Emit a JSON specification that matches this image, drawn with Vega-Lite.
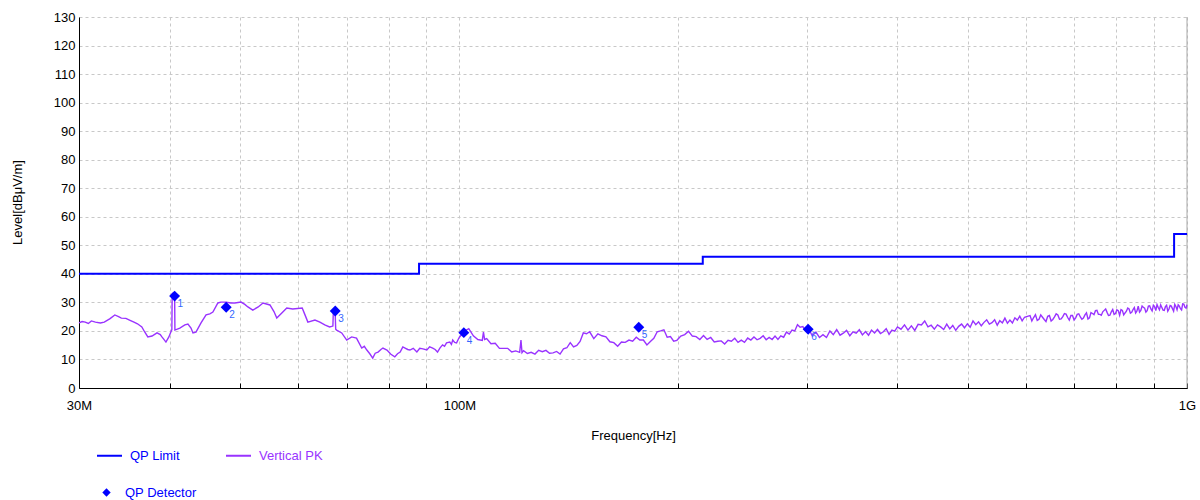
{
  "$schema": "https://vega.github.io/schema/vega-lite/v6.json",
  "width": 1108,
  "height": 371,
  "autosize": {"type": "none"},
  "padding": {"left": 79, "top": 17, "right": 13, "bottom": 112},
  "background": "white",
  "config": {
    "font": "Liberation Sans",
    "view": {"stroke": null},
    "axis": {
      "labelFont": "Liberation Sans",
      "titleFont": "Liberation Sans",
      "labelColor": "#000000",
      "titleColor": "#000000",
      "titleFontWeight": "normal",
      "domainColor": "#000000",
      "gridColor": "#c8c8c8",
      "gridDash": [3, 3]
    },
    "legend": {"labelFont": "Liberation Sans"}
  },
  "encoding": {
    "x": {
      "field": "f", "type": "quantitative",
      "scale": {"type": "log", "domain": [30, 1000], "nice": false},
      "axis": {
        "values": [30, 40, 50, 60, 70, 80, 90, 100, 200, 300, 400, 500, 600, 700, 800, 900, 1000],
        "tickCount": 40,
        "labelExpr": "datum.value == 30 ? '30M' : datum.value == 100 ? '100M' : datum.value == 1000 ? '1G' : ''",
        "labelFontSize": 13,
        "labelFlush": false,
        "labelOverlap": false,
        "tickColor": "#000000",
        "tickSize": -5,
        "labelPadding": 16,
        "title": "Frequency[Hz]",
        "titleFontSize": 13,
        "titleBaseline": "middle",
        "titleY": 47
      }
    },
    "y": {
      "field": "v", "type": "quantitative",
      "scale": {"domain": [0, 130], "nice": false, "zero": true},
      "axis": {
        "values": [0, 10, 20, 30, 40, 50, 60, 70, 80, 90, 100, 110, 120, 130],
        "tickCount": 30,
        "ticks": false,
        "labelOverlap": false,
        "labelPadding": 4,
        "labelFontSize": 13,
        "title": "Level[dBμV/m]",
        "titleFontSize": 13,
        "titleX": -62,
        "titleY": 185,
        "titleAngle": -90,
        "titleBaseline": "middle",
        "titleAlign": "center"
      }
    }
  },
  "layer": [
    {
      "data": {"values": [{"f": 1000, "lo": 0, "hi": 130}]},
      "mark": {"type": "rule", "color": "#a8a8a8", "strokeWidth": 1},
      "encoding": {
        "y": {"field": "lo", "type": "quantitative"},
        "y2": {"field": "hi"}
      }
    },
    {
      "data": {"values": [
        {"i": 1, "f": 30, "v": 40, "s": "QP Limit"},
        {"i": 2, "f": 88, "v": 40, "s": "QP Limit"},
        {"i": 3, "f": 88, "v": 43.5, "s": "QP Limit"},
        {"i": 4, "f": 216, "v": 43.5, "s": "QP Limit"},
        {"i": 5, "f": 216, "v": 46, "s": "QP Limit"},
        {"i": 6, "f": 960, "v": 46, "s": "QP Limit"},
        {"i": 7, "f": 960, "v": 54, "s": "QP Limit"},
        {"i": 8, "f": 1000, "v": 54, "s": "QP Limit"}
      ]},
      "mark": {"type": "line", "strokeWidth": 2, "interpolate": "linear"},
      "encoding": {
        "order": {"field": "i", "type": "quantitative"},
        "color": {
          "field": "s", "type": "nominal",
          "scale": {"domain": ["QP Limit", "Vertical PK"], "range": ["#0000ff", "#9933ff"]},
          "legend": {
            "title": null,
            "orient": "none",
            "direction": "horizontal",
            "legendX": 17,
            "legendY": 425,
            "symbolType": "stroke",
            "symbolSize": 625,
            "symbolStrokeWidth": 2,
            "labelFontSize": 13,
            "labelOffset": 7,
            "columnPadding": 42,
            "encode": {"labels": {"update": {"fill": {"signal": "datum.label === 'QP Limit' ? '#0000ff' : '#9933ff'"}}}}
          }
        }
      }
    },
    {
      "data": {"values": [
        {"f": 30.0, "v": 22.8}, {"f": 30.3, "v": 23.3}, {"f": 30.6, "v": 23.1}, {"f": 30.9, "v": 22.6},
        {"f": 31.2, "v": 23.5}, {"f": 31.6, "v": 23.1}, {"f": 32.1, "v": 22.8}, {"f": 32.5, "v": 23.1},
        {"f": 33.1, "v": 24.3}, {"f": 33.6, "v": 25.6}, {"f": 34.0, "v": 25.0}, {"f": 34.3, "v": 24.5},
        {"f": 34.8, "v": 24.4}, {"f": 35.2, "v": 23.8}, {"f": 35.7, "v": 23.1}, {"f": 36.1, "v": 22.5},
        {"f": 36.6, "v": 21.4}, {"f": 36.9, "v": 19.8}, {"f": 37.3, "v": 17.9}, {"f": 37.8, "v": 18.2},
        {"f": 38.4, "v": 19.3}, {"f": 38.8, "v": 18.7}, {"f": 39.0, "v": 17.9}, {"f": 39.2, "v": 17.2},
        {"f": 39.5, "v": 16.1}, {"f": 39.87, "v": 17.9}, {"f": 40.12, "v": 19.6}, {"f": 40.25, "v": 20.5},
        {"f": 40.29, "v": 33.0}, {"f": 40.45, "v": 33.4}, {"f": 40.6, "v": 33.0}, {"f": 40.64, "v": 20.3},
        {"f": 41.28, "v": 21.0}, {"f": 41.94, "v": 22.1}, {"f": 42.35, "v": 22.4}, {"f": 42.76, "v": 21.0},
        {"f": 43.03, "v": 19.3}, {"f": 43.44, "v": 19.6}, {"f": 44.14, "v": 22.8}, {"f": 44.85, "v": 25.6},
        {"f": 45.39, "v": 26.0}, {"f": 45.83, "v": 26.6}, {"f": 46.56, "v": 29.8}, {"f": 47.0, "v": 30.1},
        {"f": 47.77, "v": 30.1}, {"f": 48.5, "v": 29.8}, {"f": 49.13, "v": 29.8}, {"f": 50.1, "v": 30.1},
        {"f": 50.7, "v": 29.3}, {"f": 51.2, "v": 28.4}, {"f": 52.0, "v": 27.3}, {"f": 52.9, "v": 28.4},
        {"f": 53.7, "v": 29.8}, {"f": 54.9, "v": 29.1}, {"f": 55.6, "v": 26.8}, {"f": 56.1, "v": 24.5},
        {"f": 57.0, "v": 26.3}, {"f": 57.9, "v": 28.0}, {"f": 59.0, "v": 27.7}, {"f": 60.8, "v": 28.0},
        {"f": 61.3, "v": 25.8}, {"f": 61.9, "v": 23.1}, {"f": 63.3, "v": 23.8}, {"f": 64.3, "v": 23.1},
        {"f": 65.3, "v": 22.1}, {"f": 66.3, "v": 21.4}, {"f": 67.0, "v": 21.7}, {"f": 67.1, "v": 27.0},
        {"f": 67.5, "v": 25.5}, {"f": 67.6, "v": 20.6}, {"f": 67.8, "v": 20.3}, {"f": 68.9, "v": 19.3},
        {"f": 70.0, "v": 16.8}, {"f": 71.1, "v": 17.9}, {"f": 72.2, "v": 17.5}, {"f": 73.4, "v": 14.0},
        {"f": 74.0, "v": 14.6}, {"f": 74.6, "v": 13.3}, {"f": 75.3, "v": 12.0}, {"f": 76.0, "v": 10.5},
        {"f": 76.6, "v": 12.2}, {"f": 77.3, "v": 12.6}, {"f": 78.0, "v": 13.5}, {"f": 78.5, "v": 14.0},
        {"f": 79.5, "v": 13.3}, {"f": 80.5, "v": 11.8}, {"f": 81.5, "v": 10.9}, {"f": 82.2, "v": 12.0},
        {"f": 82.9, "v": 12.6}, {"f": 83.6, "v": 14.4}, {"f": 84.2, "v": 14.0}, {"f": 84.9, "v": 13.5},
        {"f": 85.5, "v": 13.3}, {"f": 86.4, "v": 13.9}, {"f": 87.4, "v": 12.6}, {"f": 88.2, "v": 13.9},
        {"f": 89.1, "v": 13.7}, {"f": 90.2, "v": 13.3}, {"f": 91.0, "v": 14.4}, {"f": 91.9, "v": 14.0},
        {"f": 92.6, "v": 13.5}, {"f": 93.3, "v": 12.6}, {"f": 94.0, "v": 14.0}, {"f": 94.8, "v": 15.1},
        {"f": 95.4, "v": 14.6}, {"f": 96.0, "v": 15.8}, {"f": 97.0, "v": 16.1}, {"f": 97.5, "v": 15.3},
        {"f": 97.9, "v": 16.8}, {"f": 98.5, "v": 16.0}, {"f": 99.1, "v": 15.8}, {"f": 99.6, "v": 17.0},
        {"f": 100.0, "v": 17.8}, {"f": 101.5, "v": 19.9}, {"f": 103.0, "v": 20.8}, {"f": 104.5, "v": 18.3},
        {"f": 106.0, "v": 17.0}, {"f": 107.5, "v": 16.7}, {"f": 107.9, "v": 19.6}, {"f": 108.3, "v": 17.0},
        {"f": 109.0, "v": 17.3}, {"f": 110.5, "v": 15.5}, {"f": 112.0, "v": 15.7}, {"f": 113.5, "v": 13.9},
        {"f": 115.0, "v": 13.9}, {"f": 116.5, "v": 13.9}, {"f": 118.0, "v": 12.6}, {"f": 119.5, "v": 13.0},
        {"f": 121.0, "v": 12.5}, {"f": 121.5, "v": 16.8}, {"f": 121.9, "v": 12.4}, {"f": 122.5, "v": 13.1},
        {"f": 124.0, "v": 12.1}, {"f": 125.5, "v": 12.5}, {"f": 127.0, "v": 11.9}, {"f": 128.5, "v": 13.2},
        {"f": 130.0, "v": 12.7}, {"f": 131.5, "v": 13.2}, {"f": 133.0, "v": 12.2}, {"f": 134.5, "v": 12.3},
        {"f": 136.0, "v": 12.8}, {"f": 137.5, "v": 11.9}, {"f": 139.0, "v": 13.7}, {"f": 140.5, "v": 14.1},
        {"f": 142.0, "v": 15.9}, {"f": 143.5, "v": 14.4}, {"f": 145.0, "v": 14.9}, {"f": 146.5, "v": 16.3},
        {"f": 148.0, "v": 19.3}, {"f": 149.5, "v": 19.0}, {"f": 151.0, "v": 19.7}, {"f": 153.0, "v": 17.3},
        {"f": 155.0, "v": 19.0}, {"f": 157.0, "v": 18.3}, {"f": 159.0, "v": 17.9}, {"f": 161.0, "v": 16.2},
        {"f": 163.0, "v": 15.9}, {"f": 165.0, "v": 14.6}, {"f": 167.0, "v": 16.1}, {"f": 169.0, "v": 16.0},
        {"f": 171.0, "v": 16.8}, {"f": 173.0, "v": 16.4}, {"f": 175.0, "v": 17.8}, {"f": 177.0, "v": 16.8},
        {"f": 179.0, "v": 16.8}, {"f": 181.0, "v": 15.1}, {"f": 183.0, "v": 16.3}, {"f": 185.0, "v": 17.4},
        {"f": 187.0, "v": 19.7}, {"f": 189.0, "v": 20.0}, {"f": 191.0, "v": 20.4}, {"f": 193.0, "v": 17.8},
        {"f": 195.0, "v": 18.0}, {"f": 197.0, "v": 16.4}, {"f": 199.0, "v": 16.7}, {"f": 201.5, "v": 18.2},
        {"f": 204.0, "v": 18.7}, {"f": 206.5, "v": 19.9}, {"f": 209.0, "v": 18.2}, {"f": 211.5, "v": 18.0},
        {"f": 214.0, "v": 17.0}, {"f": 216.5, "v": 18.4}, {"f": 219.0, "v": 17.0}, {"f": 221.5, "v": 17.7},
        {"f": 224.0, "v": 16.1}, {"f": 226.5, "v": 16.4}, {"f": 229.0, "v": 16.5}, {"f": 231.5, "v": 15.4},
        {"f": 234.0, "v": 16.7}, {"f": 236.5, "v": 16.4}, {"f": 239.0, "v": 17.4}, {"f": 241.5, "v": 16.0},
        {"f": 244.0, "v": 16.8}, {"f": 246.5, "v": 16.0}, {"f": 249.0, "v": 17.5}, {"f": 251.5, "v": 16.8},
        {"f": 254.0, "v": 17.9}, {"f": 256.5, "v": 16.9}, {"f": 259.0, "v": 17.4}, {"f": 261.5, "v": 18.3},
        {"f": 264.0, "v": 16.9}, {"f": 266.5, "v": 17.7}, {"f": 269.0, "v": 17.0}, {"f": 271.5, "v": 18.2},
        {"f": 274.0, "v": 17.0}, {"f": 276.5, "v": 18.3}, {"f": 279.0, "v": 17.8}, {"f": 281.5, "v": 19.6},
        {"f": 284.0, "v": 18.9}, {"f": 286.5, "v": 20.3}, {"f": 289.0, "v": 20.0}, {"f": 291.5, "v": 22.2},
        {"f": 294.0, "v": 21.3}, {"f": 296.5, "v": 21.5}, {"f": 299.0, "v": 20.0}, {"f": 302.0, "v": 20.7},
        {"f": 305.5, "v": 18.3}, {"f": 309.0, "v": 19.6}, {"f": 312.5, "v": 17.7}, {"f": 316.0, "v": 18.7},
        {"f": 319.5, "v": 17.7}, {"f": 323.0, "v": 20.0}, {"f": 326.5, "v": 18.7}, {"f": 330.0, "v": 20.5},
        {"f": 333.5, "v": 18.5}, {"f": 337.0, "v": 19.2}, {"f": 340.5, "v": 20.2}, {"f": 344.0, "v": 18.3},
        {"f": 347.5, "v": 19.7}, {"f": 351.0, "v": 19.2}, {"f": 354.5, "v": 20.4}, {"f": 358.0, "v": 18.6},
        {"f": 361.5, "v": 19.8}, {"f": 365.0, "v": 18.5}, {"f": 368.5, "v": 20.3}, {"f": 372.0, "v": 19.3},
        {"f": 375.5, "v": 20.5}, {"f": 379.0, "v": 19.1}, {"f": 382.5, "v": 19.7}, {"f": 386.0, "v": 20.8},
        {"f": 389.5, "v": 18.8}, {"f": 393.0, "v": 20.3}, {"f": 396.5, "v": 19.9}, {"f": 400.0, "v": 21.4},
        {"f": 404.5, "v": 20.6}, {"f": 409.0, "v": 22.1}, {"f": 413.5, "v": 20.3}, {"f": 418.0, "v": 21.8},
        {"f": 422.5, "v": 20.2}, {"f": 427.0, "v": 22.3}, {"f": 431.5, "v": 22.1}, {"f": 436.0, "v": 23.5},
        {"f": 440.5, "v": 21.4}, {"f": 445.0, "v": 22.0}, {"f": 449.5, "v": 20.6}, {"f": 454.0, "v": 22.1},
        {"f": 458.5, "v": 21.4}, {"f": 463.0, "v": 20.5}, {"f": 467.5, "v": 22.4}, {"f": 472.0, "v": 20.7},
        {"f": 476.5, "v": 21.9}, {"f": 481.0, "v": 20.2}, {"f": 485.5, "v": 21.6}, {"f": 490.0, "v": 22.4},
        {"f": 494.5, "v": 21.1}, {"f": 499.0, "v": 22.5}, {"f": 503.5, "v": 21.3}, {"f": 508.0, "v": 23.5},
        {"f": 512.5, "v": 22.2}, {"f": 517.0, "v": 23.2}, {"f": 521.5, "v": 21.8}, {"f": 526.0, "v": 23.0},
        {"f": 530.5, "v": 23.9}, {"f": 535.0, "v": 22.4}, {"f": 539.5, "v": 22.9}, {"f": 544.0, "v": 23.9},
        {"f": 548.5, "v": 22.0}, {"f": 553.0, "v": 23.6}, {"f": 557.5, "v": 22.8}, {"f": 562.0, "v": 24.5},
        {"f": 566.5, "v": 22.7}, {"f": 571.0, "v": 23.8}, {"f": 575.5, "v": 22.8}, {"f": 580.0, "v": 24.6},
        {"f": 584.5, "v": 23.8}, {"f": 589.0, "v": 25.2}, {"f": 593.5, "v": 23.5}, {"f": 598.0, "v": 24.8},
        {"f": 605.0, "v": 25.2}, {"f": 612.0, "v": 23.5}, {"f": 619.0, "v": 25.7}, {"f": 626.0, "v": 24.1},
        {"f": 633.0, "v": 24.8}, {"f": 640.0, "v": 23.3}, {"f": 647.0, "v": 25.4}, {"f": 654.0, "v": 24.0},
        {"f": 661.0, "v": 26.0}, {"f": 668.0, "v": 24.1}, {"f": 675.0, "v": 25.0}, {"f": 682.0, "v": 25.9},
        {"f": 689.0, "v": 23.8}, {"f": 696.0, "v": 25.4}, {"f": 703.0, "v": 24.6}, {"f": 710.0, "v": 26.0},
        {"f": 717.0, "v": 24.1}, {"f": 724.0, "v": 25.6}, {"f": 731.0, "v": 24.2}, {"f": 738.0, "v": 26.4},
        {"f": 745.0, "v": 25.7}, {"f": 752.0, "v": 27.2}, {"f": 759.0, "v": 25.8}, {"f": 766.0, "v": 26.7},
        {"f": 773.0, "v": 27.7}, {"f": 780.0, "v": 25.4}, {"f": 787.0, "v": 26.7}, {"f": 794.0, "v": 25.8},
        {"f": 801.0, "v": 27.4}, {"f": 808.0, "v": 25.5}, {"f": 815.0, "v": 27.2}, {"f": 822.0, "v": 26.3},
        {"f": 829.0, "v": 28.0}, {"f": 836.0, "v": 26.2}, {"f": 843.0, "v": 27.5}, {"f": 850.0, "v": 26.3},
        {"f": 857.0, "v": 28.7}, {"f": 864.0, "v": 27.2}, {"f": 871.0, "v": 28.3}, {"f": 878.0, "v": 26.6},
        {"f": 885.0, "v": 28.7}, {"f": 892.0, "v": 27.7}, {"f": 899.0, "v": 29.0}, {"f": 906.0, "v": 27.1},
        {"f": 913.0, "v": 28.2}, {"f": 920.0, "v": 29.1}, {"f": 927.0, "v": 27.3}, {"f": 934.0, "v": 28.5},
        {"f": 941.0, "v": 26.9}, {"f": 948.0, "v": 28.9}, {"f": 955.0, "v": 27.8}, {"f": 962.0, "v": 29.3},
        {"f": 969.0, "v": 27.4}, {"f": 976.0, "v": 28.7}, {"f": 983.0, "v": 27.35}, {"f": 990.0, "v": 29.4},
        {"f": 997.0, "v": 28.0}, {"f": 1000.0, "v": 29.2},
        {"f": 608.5, "v": 25.4}, {"f": 615.5, "v": 24.7}, {"f": 622.5, "v": 23.7}, {"f": 629.5, "v": 25.6},
        {"f": 636.5, "v": 24.0}, {"f": 643.5, "v": 25.1}, {"f": 650.5, "v": 23.5}, {"f": 657.5, "v": 24.9},
        {"f": 664.5, "v": 25.6}, {"f": 671.5, "v": 24.2}, {"f": 678.5, "v": 26.1}, {"f": 685.5, "v": 24.7},
        {"f": 692.5, "v": 25.4}, {"f": 699.5, "v": 23.8}, {"f": 706.5, "v": 25.8}, {"f": 713.5, "v": 24.9},
        {"f": 720.5, "v": 24.5}, {"f": 727.5, "v": 26.3}, {"f": 734.5, "v": 24.6}, {"f": 741.5, "v": 26.1},
        {"f": 748.5, "v": 27.1}, {"f": 755.5, "v": 25.8}, {"f": 762.5, "v": 25.5}, {"f": 769.5, "v": 27.2},
        {"f": 776.5, "v": 26.5}, {"f": 783.5, "v": 25.5}, {"f": 790.5, "v": 27.5}, {"f": 797.5, "v": 26.1},
        {"f": 804.5, "v": 27.1}, {"f": 811.5, "v": 27.5}, {"f": 818.5, "v": 25.6}, {"f": 825.5, "v": 26.9},
        {"f": 832.5, "v": 27.7}, {"f": 839.5, "v": 26.5}, {"f": 846.5, "v": 28.2}, {"f": 853.5, "v": 27.0},
        {"f": 860.5, "v": 26.6}, {"f": 867.5, "v": 28.7}, {"f": 874.5, "v": 28.0}, {"f": 881.5, "v": 27.1},
        {"f": 888.5, "v": 28.8}, {"f": 895.5, "v": 27.0}, {"f": 902.5, "v": 28.5}, {"f": 909.5, "v": 29.2},
        {"f": 916.5, "v": 27.4}, {"f": 923.5, "v": 28.2}, {"f": 930.5, "v": 27.2}, {"f": 937.5, "v": 29.0},
        {"f": 944.5, "v": 27.7}, {"f": 951.5, "v": 28.7}, {"f": 958.5, "v": 26.95}, {"f": 965.5, "v": 28.55},
        {"f": 972.5, "v": 29.15}, {"f": 979.5, "v": 27.8}, {"f": 986.5, "v": 29.5}, {"f": 993.5, "v": 28.25}
      ]},
      "transform": [{"calculate": "'Vertical PK'", "as": "s"}],
      "mark": {"type": "line", "strokeWidth": 1.4},
      "encoding": {
        "color": {"field": "s", "type": "nominal"}
      }
    },
    {
      "data": {"values": [
        {"n": "1", "f": 40.6, "v": 32.2, "s": "QP Detector"},
        {"n": "2", "f": 47.8, "v": 28.3, "s": "QP Detector"},
        {"n": "3", "f": 67.5, "v": 27.0, "s": "QP Detector"},
        {"n": "4", "f": 101.4, "v": 19.4, "s": "QP Detector"},
        {"n": "5", "f": 176.4, "v": 21.3, "s": "QP Detector"},
        {"n": "6", "f": 301.5, "v": 20.6, "s": "QP Detector"}
      ]},
      "mark": {"type": "point", "filled": true, "size": 120, "opacity": 1},
      "encoding": {
        "color": {"value": "#0000ff"},
        "shape": {
          "field": "s", "type": "nominal",
          "scale": {"domain": ["QP Detector"], "range": ["diamond"]},
          "legend": {
            "title": null,
            "orient": "none",
            "legendX": 21,
            "legendY": 469,
            "symbolFillColor": "#0000ff",
            "symbolStrokeColor": "#0000ff",
            "symbolSize": 70,
            "symbolOpacity": 1,
            "labelFontSize": 13,
            "labelColor": "#0000ff",
            "labelOffset": 12
          }
        }
      }
    },
    {
      "data": {"values": [
        {"n": "1", "f": 40.6, "v": 32.2},
        {"n": "2", "f": 47.8, "v": 28.3},
        {"n": "3", "f": 67.5, "v": 27.0},
        {"n": "4", "f": 101.4, "v": 19.4},
        {"n": "5", "f": 176.4, "v": 21.3},
        {"n": "6", "f": 301.5, "v": 20.6}
      ]},
      "mark": {"type": "text", "align": "left", "baseline": "middle", "dx": 3, "dy": 8, "fontSize": 10, "color": "#3366ff"},
      "encoding": {
        "text": {"field": "n"}
      }
    }
  ]
}
